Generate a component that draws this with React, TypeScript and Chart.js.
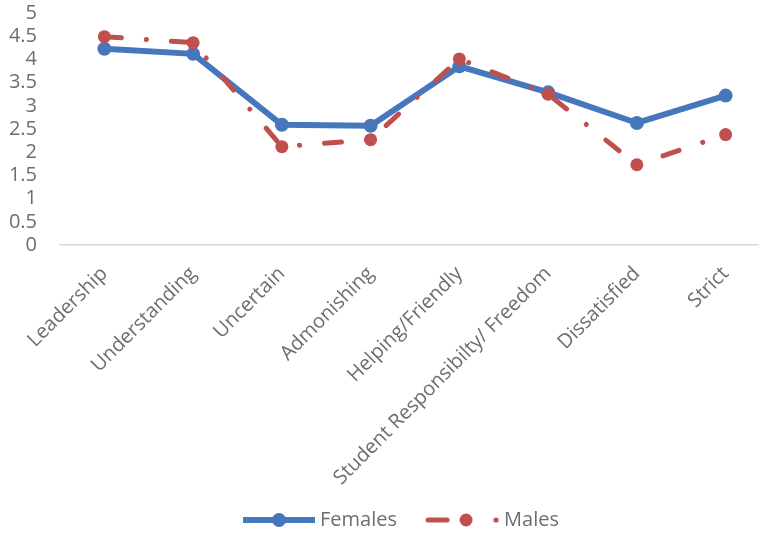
import React, { useEffect, useRef } from 'react';
import { Chart, registerables } from 'chart.js';

Chart.register(...registerables);

const categories = [
  'Leadership',
  'Understanding',
  'Uncertain',
  'Admonishing',
  'Helping/Friendly',
  'Student Responsibilty/ Freedom',
  'Dissatisfied',
  'Strict',
];
const femalesValues = [4.23, 4.12, 2.59, 2.57, 3.85, 3.29, 2.63, 3.22];
const malesValues = [4.49, 4.36, 2.12, 2.27, 4.01, 3.25, 1.73, 2.38];
const seriesNames = ['Females', 'Males'];
const yMin = 0;
const yMax = 5;
const yStep = 0.5;

const BLUE = '#4677BD';
const RED = '#C0504D';
const TEXT = '#6E6E6E';
const FONT = "'Open Sans', sans-serif";
const FS = 20;

function makeBlueIcon(): HTMLCanvasElement {
  const c = document.createElement('canvas');
  c.width = 94;
  c.height = 18;
  const ctx = c.getContext('2d')!;
  ctx.strokeStyle = BLUE;
  ctx.lineWidth = 6;
  ctx.beginPath();
  ctx.moveTo(22, 9);
  ctx.lineTo(94, 9);
  ctx.stroke();
  ctx.fillStyle = BLUE;
  ctx.beginPath();
  ctx.arc(58, 9, 7, 0, Math.PI * 2);
  ctx.fill();
  return c;
}

function makeRedIcon(): HTMLCanvasElement {
  const c = document.createElement('canvas');
  c.width = 94;
  c.height = 18;
  const ctx = c.getContext('2d')!;
  ctx.strokeStyle = RED;
  ctx.fillStyle = RED;
  ctx.lineWidth = 5;
  ctx.lineCap = 'round';
  ctx.beginPath();
  ctx.moveTo(23, 9);
  ctx.lineTo(42, 9);
  ctx.stroke();
  ctx.beginPath();
  ctx.arc(61, 9, 6.5, 0, Math.PI * 2);
  ctx.fill();
  ctx.beginPath();
  ctx.arc(91, 9, 2.6, 0, Math.PI * 2);
  ctx.fill();
  return c;
}

export default function App() {
  const ref = useRef<HTMLCanvasElement | null>(null);

  useEffect(() => {
    if (!ref.current) return;
    const icons = [makeBlueIcon(), makeRedIcon()];
    const mc = document.createElement('canvas').getContext('2d')!;
    mc.font = `${FS}px ${FONT}`;
    const widest = Math.max(...['0.5', '4.5', '1.5', '2.5', '3.5'].map((t) => mc.measureText(t).width));
    const chart = new Chart(ref.current, {
      type: 'line',
      data: {
        labels: categories,
        datasets: [
          {
            label: seriesNames[0],
            data: femalesValues,
            borderColor: BLUE,
            backgroundColor: BLUE,
            borderWidth: 6,
            pointRadius: 7,
            pointHoverRadius: 7,
            pointBorderWidth: 0,
            tension: 0,
            order: 2,
          },
          {
            label: seriesNames[1],
            data: malesValues,
            borderColor: RED,
            backgroundColor: RED,
            borderWidth: 5,
            borderDash: [17, 25, 0.1, 25],
            borderCapStyle: 'round',
            pointRadius: 6.5,
            pointHoverRadius: 6.5,
            pointBorderWidth: 0,
            tension: 0,
            order: 1,
          },
        ],
      },
      options: {
        responsive: false,
        animation: false,
        devicePixelRatio: 1,
        layout: { padding: { left: 15, right: 36, top: 13, bottom: 0 } },
        plugins: {
          tooltip: { enabled: false },
          legend: {
            position: 'bottom',
            labels: {
              usePointStyle: true,
              pointStyleWidth: 84,
              padding: 13,
              color: TEXT,
              font: { family: FONT, size: FS },
              generateLabels: () =>
                seriesNames.map((name, i) => ({
                  text: name,
                  pointStyle: icons[i] as any,
                  fillStyle: i === 0 ? BLUE : RED,
                  strokeStyle: i === 0 ? BLUE : RED,
                  lineWidth: 0,
                  hidden: false,
                  datasetIndex: i,
                  fontColor: TEXT,
                })),
            },
          },
        },
        scales: {
          x: {
            offset: true,
            grid: { display: false, drawTicks: false },
            border: { display: true, color: '#D9D9D9', width: 1.5 },
            ticks: {
              autoSkip: false,
              minRotation: 45,
              maxRotation: 45,
              padding: 17,
              color: TEXT,
              font: { family: FONT, size: FS },
            },
            afterFit: (scale: any) => {
              scale.height = 252;
            },
          },
          y: {
            min: yMin,
            max: yMax,
            grid: { display: false, drawTicks: false },
            border: { display: false },
            ticks: {
              stepSize: yStep,
              autoSkip: false,
              mirror: true,
              crossAlign: 'far',
              padding: -23 - widest,
              color: TEXT,
              font: { family: FONT, size: FS },
              callback: (v: any) => String(Number(v)),
            },
            afterFit: (scale: any) => {
              scale.width = 45;
            },
          },
        },
      },
    });
    return () => chart.destroy();
  }, []);

  return (
    <div
      style={{
        position: 'absolute',
        left: 0,
        top: 0,
        width: 759,
        height: 534,
        overflow: 'hidden',
        background: '#fff',
      }}
    >
      <canvas ref={ref} width={806} height={540} style={{ width: 806, height: 540, display: 'block' }} />
    </div>
  );
}
